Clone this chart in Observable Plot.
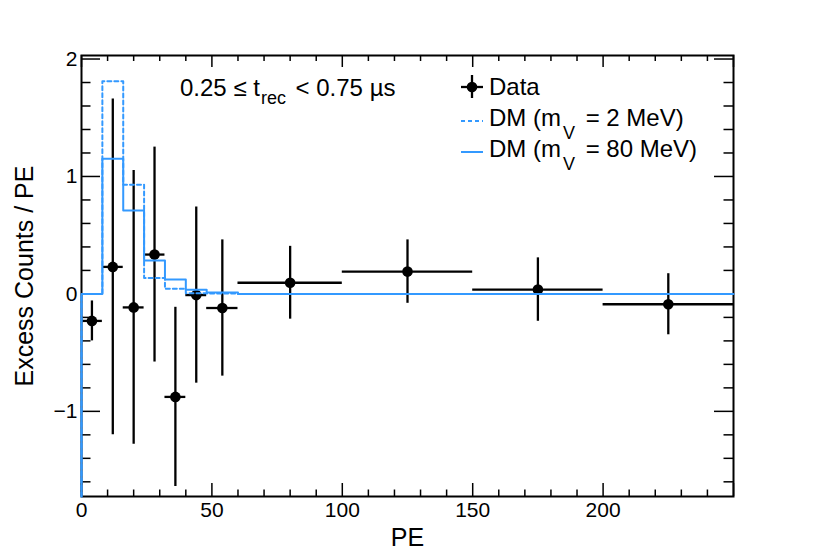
<!DOCTYPE html>
<html>
<head>
<meta charset="utf-8">
<script src="https://cdn.jsdelivr.net/npm/d3@7"></script>
<script src="https://cdn.jsdelivr.net/npm/@observablehq/plot@0.6"></script>
<style>
  html, body { margin: 0; padding: 0; background: #fff; }
  svg { display: block; }
</style>
</head>
<body>
<div id="chart"></div>
<script>
// ---- data ----
const binLo = [0, 8, 16, 24, 32, 40, 48, 60, 100, 150, 200];
const binHi = [8, 16, 24, 32, 40, 48, 60, 100, 150, 200, 250];
const dataY = [-0.23, 0.23, -0.115, 0.335, -0.877, -0.01, -0.12, 0.095, 0.19, 0.037, -0.088];
const dataErr = [0.17, 1.43, 1.165, 0.915, 0.763, 0.75, 0.58, 0.31, 0.27, 0.27, 0.26];
const dm2 = [0, 1.81, 0.93, 0.135, 0.043, 0.006, 0.003, 0, 0, 0, 0];
const dm80 = [0, 1.15, 0.71, 0.285, 0.122, 0.035, 0.012, 0, 0, 0, 0];

const xDomain = [0, 250];
const yDomain = [-1.725, 2.03];
const xMajor = [0, 50, 100, 150, 200, 250];
const xLabels = [0, 50, 100, 150, 200];
const xMinor = [10, 20, 30, 40, 60, 70, 80, 90, 110, 120, 130, 140, 160, 170, 180, 190, 210, 220, 230, 240];
const yMajor = [-1, 0, 1, 2];
const yMinor = [-1.6, -1.4, -1.2, -0.8, -0.6, -0.4, -0.2, 0.2, 0.4, 0.6, 0.8, 1.2, 1.4, 1.6, 1.8];

const blue = "#3399ff";
const W = 814, H = 551, mL = 81, mR = 81, mT = 55, mB = 55;
const fW = W - mL - mR, fH = H - mT - mB;

const points = binLo.map((lo, i) => ({lo, hi: binHi[i], x: (lo + binHi[i]) / 2, y: dataY[i], e: dataErr[i]}));
function histo(vals) {
  const pts = [{x: binLo[0], y: yDomain[0]}];
  vals.forEach((v, i) => pts.push({x: binLo[i], y: v}));
  pts.push({x: binHi[binHi.length - 1], y: vals[vals.length - 1]});
  return pts;
}
const fmt = d => d < 0 ? "\u2212" + Math.abs(d) : String(d);
const ff = "'Liberation Sans', Arial, Helvetica, sans-serif";

const chart = Plot.plot({
  width: W, height: H,
  marginLeft: mL, marginRight: mR, marginTop: mT, marginBottom: mB,
  x: {domain: xDomain, axis: null},
  y: {domain: yDomain, axis: null},
  style: {fontFamily: ff, background: "#fff"},
  marks: [
    // frame and inward ticks on all four sides
    Plot.frame({stroke: "black", strokeWidth: 2}),
    Plot.ruleX(xMajor, {x: d => d, insetTop: fH - 13, stroke: "black", strokeWidth: 1.5}),
    Plot.ruleX(xMinor, {x: d => d, insetTop: fH - 6.5, stroke: "black", strokeWidth: 1.5}),
    Plot.ruleX(xMajor, {x: d => d, insetBottom: fH - 12, stroke: "black", strokeWidth: 1.5}),
    Plot.ruleX(xMinor, {x: d => d, insetBottom: fH - 6, stroke: "black", strokeWidth: 1.5}),
    Plot.ruleY(yMajor, {y: d => d, insetRight: fW - 19, stroke: "black", strokeWidth: 1.5}),
    Plot.ruleY(yMinor, {y: d => d, insetRight: fW - 9.5, stroke: "black", strokeWidth: 1.5}),
    Plot.ruleY(yMajor, {y: d => d, insetLeft: fW - 19, stroke: "black", strokeWidth: 1.5}),
    Plot.ruleY(yMinor, {y: d => d, insetLeft: fW - 9.5, stroke: "black", strokeWidth: 1.5}),
    // data error bars
    Plot.ruleY(points, {y: "y", x1: "lo", x2: "hi", stroke: "black", strokeWidth: 2.3}),
    Plot.ruleX(points, {x: "x", y1: d => d.y - d.e, y2: d => d.y + d.e, stroke: "black", strokeWidth: 2.3}),
    Plot.dot(points, {x: "x", y: "y", r: 5.3, fill: "black", stroke: "none"}),
    // DM histograms
    Plot.line(histo(dm2), {x: "x", y: "y", curve: "step-after", stroke: blue, strokeWidth: 2, strokeDasharray: "4,3"}),
    Plot.line(histo(dm80), {x: "x", y: "y", curve: "step-after", stroke: blue, strokeWidth: 2}),
    // tick labels
    Plot.text(xLabels, {x: d => d, frameAnchor: "bottom", lineAnchor: "top", dy: 6, text: d => fmt(d), fontSize: 21, fill: "black"}),
    Plot.text(yMajor, {y: d => d, frameAnchor: "left", textAnchor: "end", dx: -4, text: d => fmt(d), fontSize: 21, fill: "black"}),
    // axis titles
    Plot.text(["PE"], {frameAnchor: "bottom", lineAnchor: "bottom", textAnchor: "middle", dy: 49, text: d => d, fontSize: 25, fill: "black"}),
    Plot.text(["Excess Counts / PE"], {frameAnchor: "left", rotate: -90, textAnchor: "middle", lineAnchor: "bottom", dx: -49, text: d => d, fontSize: 25, fill: "black"})
  ]
});
document.getElementById("chart").appendChild(chart);

// ---- annotations: title and legend with sub-scripts ----
const svg = d3.select(chart);
const t = svg.append("text").attr("x", 180).attr("y", 96).attr("text-anchor", "start")
  .attr("font-family", ff).attr("font-size", 24).attr("fill", "black");
t.append("tspan").text("0.25 \u2264 t");
t.append("tspan").attr("dx", 1).attr("dy", 8).attr("font-size", 18).text("rec");
t.append("tspan").attr("dx", 3).attr("dy", -8).text(" < 0.75 \u00b5s");

const lg = svg.append("g").attr("font-family", ff).attr("font-size", 24).attr("fill", "black").attr("text-anchor", "start");
// Data entry
lg.append("line").attr("x1", 461).attr("x2", 483).attr("y1", 87).attr("y2", 87).attr("stroke", "black").attr("stroke-width", 2.3);
lg.append("line").attr("x1", 472).attr("x2", 472).attr("y1", 75).attr("y2", 98).attr("stroke", "black").attr("stroke-width", 2.3);
lg.append("circle").attr("cx", 472).attr("cy", 87).attr("r", 5.3).attr("fill", "black");
lg.append("text").attr("x", 489).attr("y", 95).text("Data");
// DM entries
const entries = [{label: "2 MeV)", dash: "4,3", y: 126}, {label: "80 MeV)", dash: null, y: 157}];
entries.forEach(e => {
  const l = lg.append("line").attr("x1", 461).attr("x2", 483).attr("y1", e.y - 5).attr("y2", e.y - 5).attr("stroke", blue).attr("stroke-width", 2);
  if (e.dash) l.attr("stroke-dasharray", e.dash);
  const tx = lg.append("text").attr("x", 489).attr("y", e.y);
  tx.append("tspan").text("DM (m");
  tx.append("tspan").attr("dx", 2).attr("dy", 13).attr("font-size", 18).text("V");
  tx.append("tspan").attr("dx", 4).attr("dy", -13).text(" = " + e.label);
});
</script>
</body>
</html>
